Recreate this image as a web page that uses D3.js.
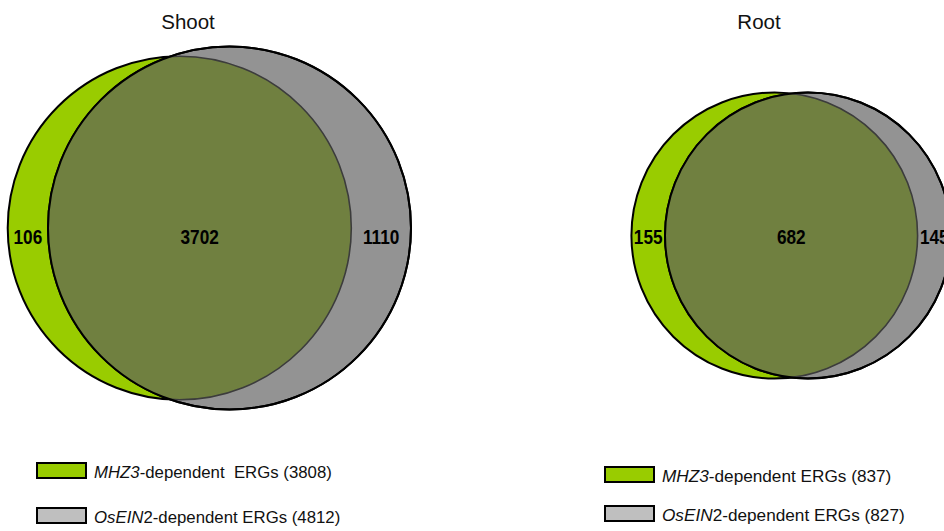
<!DOCTYPE html>
<html>
<head>
<meta charset="utf-8">
<script src="https://cdn.jsdelivr.net/npm/d3@7"></script>
<style>
  html, body { margin: 0; padding: 0; background: #fff; overflow: hidden; }
  svg { display: block; font-family: "Liberation Sans", Arial, sans-serif; }
  text { white-space: pre; }
</style>
</head>
<body>
<svg id="chart" width="944" height="531"></svg>
<script>
// Tissues shown side by side
const panels = ["Shoot", "Root"];

// Region counts for each Venn diagram
const mhz3Only   = [106, 155];
const sharedErgs = [3702, 682];
const osein2Only = [1110, 145];

// Set totals
const mhz3Totals   = [3808, 837];
const osein2Totals = [4812, 827];

// Legend entries: italic gene name, upright suffix, rest of label
const legendGenes    = ["MHZ3", "OsEIN"];
const legendSuffix   = ["", "2"];
const legendRestShoot = ["-dependent  ERGs", "-dependent ERGs"];
const legendRestRoot  = ["-dependent ERGs", "-dependent ERGs"];

// Layout (pixels)
const layout = [
  { titleX: 188, cy: 228,   greenCx: 179.5, gap: 50,
    legendX: 37, legendY: [463, 508], legendFont: 16.8 },
  { titleX: 759, cy: 235.5, greenCx: 774.5, gap: 33.5,
    legendX: 605, legendY: [467, 506], legendFont: 17.2 }
];

const colors = {
  mhz3: "#99cc00",
  osein2: "#939393",
  overlap: "#708040",
  legendGrey: "#bfbfbf"
};

const svg = d3.select("#chart");
const defs = svg.append("defs");

// Circle radius grows with set size
const rScale = d3.scaleLinear().domain([0, 4812]).range([135, 181.5]);

panels.forEach((name, i) => {
  const L = layout[i];
  const g = svg.append("g");
  const rG = rScale(mhz3Totals[i]);
  const rO = rScale(osein2Totals[i]);
  const cxG = L.greenCx;
  const cxO = L.greenCx + L.gap;
  const cy = L.cy;

  // Title
  g.append("text")
    .attr("x", L.titleX).attr("y", 29)
    .attr("text-anchor", "middle")
    .attr("font-size", 20.5)
    .attr("fill", "#111")
    .text(name);

  // MHZ3 set
  g.append("circle")
    .attr("cx", cxG).attr("cy", cy).attr("r", rG)
    .attr("fill", colors.mhz3)
    .attr("stroke", "#000").attr("stroke-width", 2);

  // OsEIN2 set
  g.append("circle")
    .attr("cx", cxO).attr("cy", cy).attr("r", rO)
    .attr("fill", colors.osein2)
    .attr("stroke", "#000").attr("stroke-width", 2);

  // Overlap region: MHZ3 circle clipped to the OsEIN2 circle
  const clipId = "clip-" + i;
  defs.append("clipPath").attr("id", clipId)
    .append("circle").attr("cx", cxO).attr("cy", cy).attr("r", rO);

  g.append("circle")
    .attr("clip-path", `url(#${clipId})`)
    .attr("cx", cxG).attr("cy", cy).attr("r", rG)
    .attr("fill", colors.overlap)
    .attr("stroke", "#3c3c3c").attr("stroke-width", 1.6);

  // Outer outline of OsEIN2 on top
  g.append("circle")
    .attr("cx", cxO).attr("cy", cy).attr("r", rO)
    .attr("fill", "none")
    .attr("stroke", "#000").attr("stroke-width", 2);

  // Region labels centred between the circle edges
  const leftG = cxG - rG, rightG = cxG + rG;
  const leftO = cxO - rO, rightO = cxO + rO;
  const labels = [
    { x: (leftG + leftO) / 2,  v: mhz3Only[i] },
    { x: (leftO + rightG) / 2, v: sharedErgs[i] },
    { x: (rightG + rightO) / 2, v: osein2Only[i] }
  ];
  labels.forEach(d => {
    g.append("text")
      .attr("transform", `translate(${d.x},244) scale(0.82,1)`)
      .attr("text-anchor", "middle")
      .attr("font-size", 21)
      .attr("font-weight", "bold")
      .attr("fill", "#000")
      .text(d.v);
  });

  // Legend
  const totals = [mhz3Totals[i], osein2Totals[i]];
  const rest = i === 0 ? legendRestShoot : legendRestRoot;
  const fills = [colors.mhz3, colors.legendGrey];
  legendGenes.forEach((gene, j) => {
    const y = L.legendY[j];
    g.append("rect")
      .attr("x", L.legendX).attr("y", y)
      .attr("width", 49).attr("height", 15)
      .attr("fill", fills[j])
      .attr("stroke", "#000").attr("stroke-width", 2);
    const t = g.append("text")
      .attr("x", L.legendX + 57).attr("y", y + 14.5)
      .attr("font-size", L.legendFont)
      .attr("fill", "#111");
    t.append("tspan").attr("font-style", "italic").text(gene);
    if (legendSuffix[j]) t.append("tspan").text(legendSuffix[j]);
    t.append("tspan").text(`${rest[j]} (${totals[j]})`);
  });
});
</script>
</body>
</html>
